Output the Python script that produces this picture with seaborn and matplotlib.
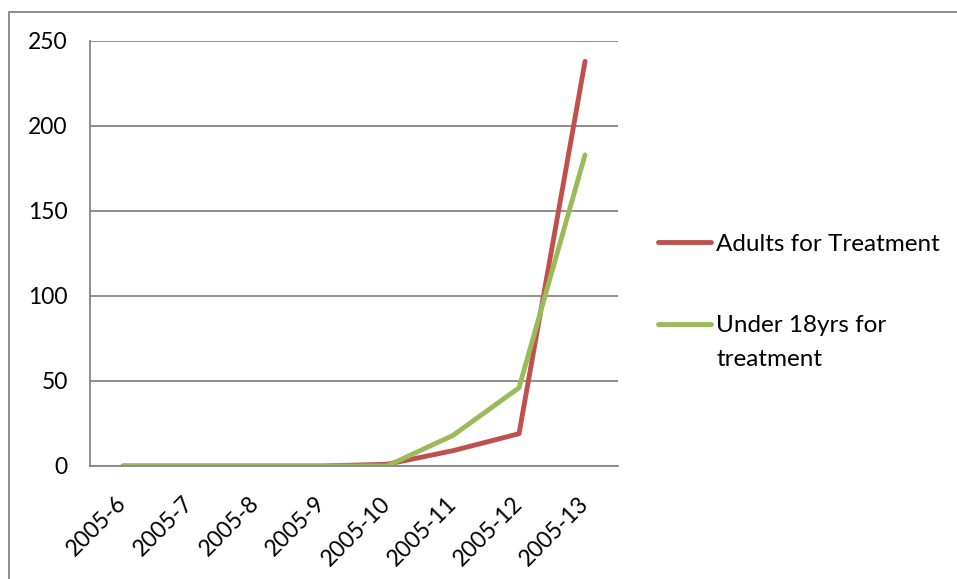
import matplotlib
matplotlib.use("Agg")
import matplotlib.pyplot as plt
import matplotlib.transforms as mtransforms
from matplotlib.patches import Rectangle
from matplotlib.ticker import FixedLocator, MultipleLocator
import pandas as pd
import seaborn as sns

# data
periods = ["2005-6", "2005-7", "2005-8", "2005-9", "2005-10", "2005-11", "2005-12", "2005-13"]
adults = [0, 0, 0, 0, 1, 9, 19, 238]
under18 = [0, 0, 0, 0, 0, 18, 46, 183]
series_names = ["Adults for Treatment", "Under 18yrs for treatment"]
series_colors = ["#C0504D", "#9BBB59"]

sns.set_theme(style="white")
plt.rcParams["font.family"] = ["Lato", "DejaVu Sans"]
plt.rcParams["text.color"] = "black"

df = pd.DataFrame({
    "period": periods * 2,
    "value": adults + under18,
    "series": [series_names[0]] * len(periods) + [series_names[1]] * len(periods),
})

fig = plt.figure(figsize=(9.57, 5.79), dpi=100)
ax = fig.add_axes([0.094, 0.1952, 0.5518, 0.734])

sns.lineplot(data=df, x="period", y="value", hue="series", sort=False,
             palette=dict(zip(series_names, series_colors)), linewidth=3.5,
             solid_capstyle="round", ax=ax, legend=False)

ax.set_xlim(-0.5, len(periods) - 0.5)
ax.set_ylim(0, 250)
ax.yaxis.set_major_locator(MultipleLocator(50))
ax.grid(axis="y", color="#868686", linewidth=1.3)
ax.set_axisbelow(True)
for side in ["top", "right"]:
    ax.spines[side].set_visible(False)
for side in ["left", "bottom"]:
    ax.spines[side].set_color("#868686")
    ax.spines[side].set_linewidth(1.3)

ax.set_xticks(range(len(periods)))
ax.set_xticklabels(periods, rotation=45, ha="right", rotation_mode="anchor", fontsize=16.5)
ax.xaxis.set_minor_locator(FixedLocator([i - 0.5 for i in range(len(periods) + 1)]))
ax.tick_params(axis="x", which="major", length=0, pad=12)
ax.tick_params(axis="x", which="minor", length=5, width=1.3, color="#868686", direction="out")
ax.tick_params(axis="y", length=5, width=1.3, color="#868686", direction="out", labelsize=16.5, pad=11)
ax.tick_params(axis="both", labelcolor="black")
ax.set_xlabel("")
ax.set_ylabel("")

# nudge rotated labels to sit like the original
shift = mtransforms.ScaledTranslation(-0.07, -0.10, fig.dpi_scale_trans)
for lbl in ax.get_xticklabels():
    lbl.set_transform(lbl.get_transform() + shift)

handles = [plt.Line2D([], [], color=c, linewidth=3.5, solid_capstyle="round") for c in series_colors]
legend_labels = ["Adults for Treatment", "Under 18yrs for"]
leg = fig.legend(handles, legend_labels, loc="center left",
                 bbox_to_anchor=(658 / 957, 1 - 285 / 579),
                 frameon=False, fontsize=17.5, handlelength=2.2, handletextpad=0.2,
                 labelspacing=2.47, borderpad=0, borderaxespad=0)

# second line of the wrapped legend label
fig.canvas.draw()
bb = leg.texts[1].get_window_extent()
fig.text(bb.x0 / 957, (bb.y0 - 34) / 579, "treatment", fontsize=17.5,
         ha="left", va="bottom", color="black")

# outer chart border
fig.patches.append(Rectangle((8.5 / 957, -0.1), 1.2, 1 - 11.5 / 579 + 0.1,
                             transform=fig.transFigure, fill=False,
                             edgecolor="#868686", linewidth=1.3))

fig.savefig("out.png", dpi=100)
